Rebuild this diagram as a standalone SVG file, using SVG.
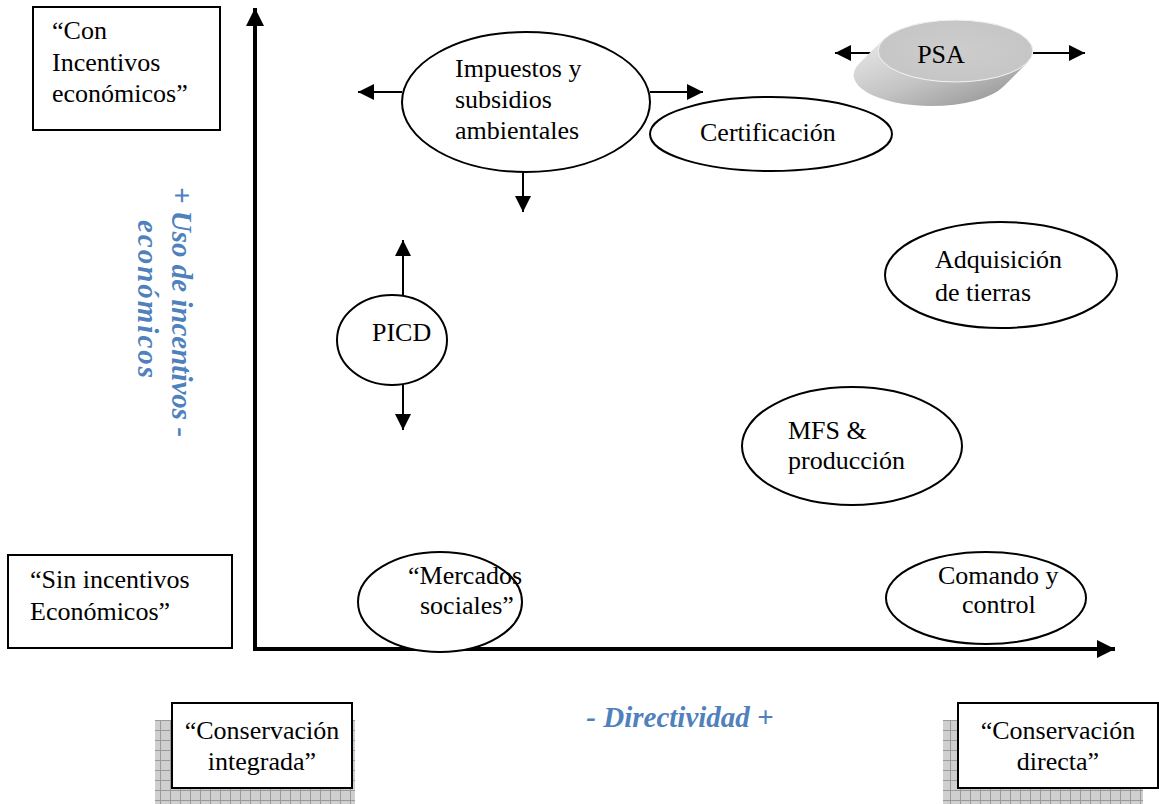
<svg xmlns="http://www.w3.org/2000/svg" width="1159" height="804" viewBox="0 0 1159 804">
<defs>
<style>
.t{font-family:"Liberation Serif","Times New Roman",serif;font-size:26px;fill:#000}
.b{font-family:"Liberation Serif","Times New Roman",serif;font-size:29px;font-weight:bold;font-style:italic;fill:#4F81BD}
.box{fill:#fff;stroke:#000;stroke-width:2}
.el{fill:#fff;stroke:#000;stroke-width:2}
.ar{stroke:#000;stroke-width:2;fill:none;marker-end:url(#ah)}
.ax{stroke:#000;stroke-width:4;fill:none;marker-end:url(#axh)}
</style>
<marker id="ah" viewBox="0 0 10 10" refX="10" refY="5" markerWidth="8" markerHeight="8" markerUnits="strokeWidth" orient="auto">
<path d="M0,0 L10,5 L0,10 Z" fill="#000"/>
</marker>
<marker id="axh" viewBox="0 0 10 10" refX="10" refY="5" markerWidth="4.5" markerHeight="4.5" markerUnits="strokeWidth" orient="auto">
<path d="M0,0 L10,5 L0,10 Z" fill="#000"/>
</marker>
<pattern id="grid" width="10" height="10" patternUnits="userSpaceOnUse">
<rect width="10" height="10" fill="#CFCFCF"/>
<path d="M0,0.5 H10 M0.5,0 V10" stroke="#9A9A9A" stroke-width="1"/>
</pattern>
<linearGradient id="ext" x1="0" y1="0" x2="1" y2="1">
<stop offset="0" stop-color="#EAEAEA"/>
<stop offset="0.5" stop-color="#C4C4C4"/>
<stop offset="1" stop-color="#8C8C8C"/>
</linearGradient>
<radialGradient id="top" cx="0.5" cy="0.5" r="0.6">
<stop offset="0" stop-color="#CDCDCD"/>
<stop offset="0.8" stop-color="#C6C6C6"/>
<stop offset="1" stop-color="#E8E8E8"/>
</radialGradient>
</defs>

<g id="connectors">
<line class="ax" x1="255" y1="651" x2="255" y2="8"/>
<line class="ax" x1="253" y1="649" x2="1115" y2="649"/>
<line class="ar" x1="402" y1="92" x2="358" y2="92"/>
<line class="ar" x1="650" y1="92" x2="703" y2="92"/>
<line class="ar" x1="523" y1="172" x2="523" y2="212"/>
<line class="ar" x1="403" y1="295" x2="403" y2="240"/>
<line class="ar" x1="403" y1="385" x2="403" y2="430"/>
<line class="ar" x1="878" y1="53" x2="835" y2="53"/>
<line class="ar" x1="1033" y1="53" x2="1085" y2="53"/>
</g>

<g id="con-incentivos">
<rect class="box" x="33" y="7" width="187" height="123"/>
<text class="t" x="52" y="39">“Con</text>
<text class="t" x="52" y="71">Incentivos</text>
<text class="t" x="52" y="102">económicos”</text>
</g>

<g id="sin-incentivos">
<rect class="box" x="8" y="555" width="224" height="93"/>
<text class="t" x="30" y="588">“Sin incentivos</text>
<text class="t" x="30" y="620">Económicos”</text>
</g>

<g id="eje-y-label">
<text class="b" text-anchor="middle" transform="translate(172,312) rotate(90)">+ Uso de incentivos -</text>
<text class="b" text-anchor="middle" letter-spacing="2" transform="translate(138,300) rotate(90)">económicos</text>
</g>

<g id="impuestos">
<ellipse class="el" cx="526" cy="102" rx="124" ry="70"/>
<text class="t" x="455" y="77">Impuestos y</text>
<text class="t" x="455" y="108">subsidios</text>
<text class="t" x="455" y="139">ambientales</text>
</g>

<g id="certificacion">
<ellipse class="el" cx="771" cy="134" rx="121" ry="37"/>
<text class="t" x="700" y="141">Certificación</text>
</g>

<g id="psa">
<path d="M883.2,39.5 L859.2,63.5 A77.5,31 0 0 0 931.5,106 A77.5,31 0 0 0 1003.5,86.5 L1027.5,62.5 Z" fill="url(#ext)"/>
<ellipse cx="955.5" cy="51" rx="77.5" ry="31" fill="url(#top)" stroke="#F2F2F2" stroke-width="1"/>
<text class="t" x="941" y="63" text-anchor="middle">PSA</text>
</g>

<g id="adquisicion">
<ellipse class="el" cx="1001" cy="275" rx="116" ry="53"/>
<text class="t" x="935" y="268">Adquisición</text>
<text class="t" x="935" y="301">de tierras</text>
</g>

<g id="picd">
<ellipse class="el" cx="392" cy="340" rx="55" ry="45"/>
<text class="t" x="372" y="341">PICD</text>
</g>

<g id="mfs">
<ellipse class="el" cx="852" cy="446" rx="110" ry="59"/>
<text class="t" x="788" y="439">MFS &amp;</text>
<text class="t" x="788" y="469">producción</text>
</g>

<g id="mercados">
<ellipse class="el" cx="440" cy="602" rx="82" ry="50"/>
<text class="t" x="408" y="584">“Mercados</text>
<text class="t" x="420" y="614">sociales”</text>
</g>

<g id="comando">
<ellipse class="el" cx="986" cy="598" rx="100" ry="46"/>
<text class="t" x="938" y="584">Comando y</text>
<text class="t" x="962" y="613">control</text>
</g>

<g id="directividad">
<text class="b" x="680" y="727" text-anchor="middle">- Directividad +</text>
</g>

<g id="conservacion-integrada">
<rect x="155" y="720" width="200" height="84" fill="url(#grid)"/>
<rect class="box" x="172" y="703" width="180" height="85"/>
<text class="t" x="262" y="739" text-anchor="middle">“Conservación</text>
<text class="t" x="262" y="770" text-anchor="middle">integrada”</text>
</g>

<g id="conservacion-directa">
<rect x="943" y="720" width="200" height="84" fill="url(#grid)"/>
<rect class="box" x="958" y="703" width="200" height="85"/>
<text class="t" x="1058" y="739" text-anchor="middle">“Conservación</text>
<text class="t" x="1058" y="770" text-anchor="middle">directa”</text>
</g>
</svg>
